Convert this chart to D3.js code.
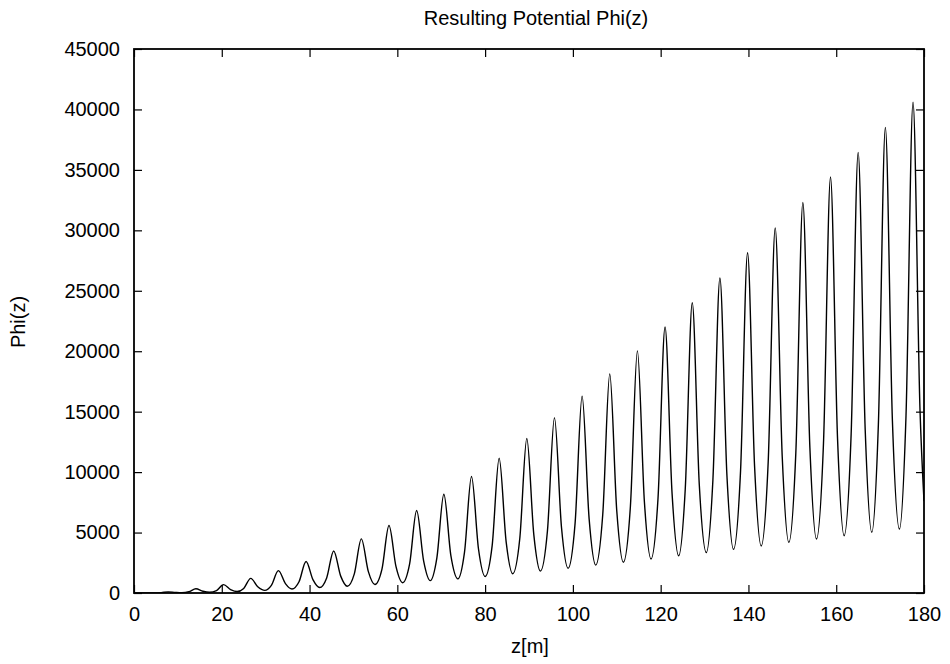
<!DOCTYPE html>
<html>
<head>
<meta charset="utf-8">
<script src="https://cdn.jsdelivr.net/npm/d3@7"></script>
<style>
  body { margin: 0; background: #fff; }
  text { font-family: "Liberation Sans", Arial, Helvetica, sans-serif; fill: #000; }
</style>
</head>
<body>
<div id="chart"></div>
<script>
// values
const peakZ   = [7.8, 14.1, 20.4, 26.6, 32.9, 39.2, 45.5, 51.8, 58.1, 64.4, 70.6, 76.9, 83.2, 89.5,
                 95.8, 102.1, 108.4, 114.7, 121.0, 127.2, 133.5, 139.8, 146.1, 152.4, 158.7, 165.0, 171.2, 177.5];
const peakPhi = [90, 350, 690, 1210, 1850, 2610, 3480, 4480, 5580, 6820, 8170, 9640, 11150, 12780,
                 14510, 16280, 18120, 20030, 22000, 24010, 26060, 28150, 30200, 32300, 34410, 36450, 38520, 40600];

const troughZ   = [4.6, 10.9, 17.2, 23.5, 29.8, 36.0, 42.3, 48.6, 54.9, 61.2, 67.5, 73.8, 80.0, 86.3,
                   92.6, 98.9, 105.2, 111.5, 117.8, 124.1, 130.4, 136.6, 142.9, 149.2, 155.5, 161.8, 168.1, 174.4];
const troughPhi = [10, 30, 60, 120, 220, 330, 450, 560, 700, 850, 1020, 1170, 1360, 1590,
                   1810, 2040, 2310, 2540, 2810, 3070, 3340, 3610, 3890, 4190, 4470, 4740, 5020, 5290];

// points on the rising flank, a quarter period before each peak
const riseZ   = [6.2, 12.5, 18.8, 25.0, 31.3, 37.6, 43.9, 50.2, 56.5, 62.8, 69.0, 75.3, 81.6, 87.9,
                 94.2, 100.5, 106.8, 113.1, 119.4, 125.6, 131.9, 138.2, 144.5, 150.8, 157.1, 163.4, 169.6, 175.9];
const risePhi = [30, 102, 203, 381, 638, 928, 1251, 1584, 1976, 2408, 2887, 3358, 3894, 4508,
                 5125, 5763, 6470, 7133, 7863, 8585, 9330, 10081, 10839, 11633, 12402, 13144, 13906, 14655];

// points on the falling flank, a quarter period after each peak
const fallZ   = [9.4, 15.7, 22.0, 28.2, 34.5, 40.8, 47.1, 53.4, 59.7, 66.0, 72.2, 78.5, 84.8, 91.1,
                 97.4, 103.7, 110.0, 116.3, 122.6, 128.8, 135.1, 141.4, 147.7, 154.0, 160.3, 166.6, 172.8, 179.1];
const fallPhi = [52, 145, 288, 516, 781, 1084, 1396, 1771, 2178, 2637, 3092, 3621, 4211, 4810,
                 5441, 6132, 6784, 7502, 8218, 8955, 9699, 10464, 11249, 12016, 12771, 13527, 14275, 15025];

const endZ   = [0, 180];
const endPhi = [0, 7600];

const xTicks = [0, 20, 40, 60, 80, 100, 120, 140, 160, 180];
const yTicks = [0, 5000, 10000, 15000, 20000, 25000, 30000, 35000, 40000, 45000];

const margin = {top: 49, right: 26, bottom: 71, left: 134},
    width = 950 - margin.left - margin.right,
    height = 664 - margin.top - margin.bottom;

let points = [];
[[peakZ, peakPhi], [troughZ, troughPhi], [riseZ, risePhi], [fallZ, fallPhi], [endZ, endPhi]]
  .forEach(([zs, vs]) => zs.forEach((z, i) => points.push({z: z, phi: vs[i]})));
points.sort((a, b) => d3.ascending(a.z, b.z));

const x = d3.scaleLinear().domain([0, 180]).range([0, width]);
const y = d3.scaleLinear().domain([0, 45000]).range([height, 0]);

const svg = d3.select('#chart').append('svg')
    .attr('width', 950)
    .attr('height', 664);

const g = svg.append('g')
    .attr('transform', `translate(${margin.left},${margin.top})`);

g.append('clipPath').attr('id', 'clip')
  .append('rect').attr('width', width).attr('height', height);

const tick = 8;
const fontSize = '20px';

// bottom and top axes, ticks pointing inward
g.append('g')
    .attr('transform', `translate(0,${height})`)
    .call(d3.axisBottom(x).tickValues(xTicks).tickSizeInner(-tick).tickSizeOuter(0).tickPadding(14))
    .call(a => a.select('.domain').remove());
g.append('g')
    .call(d3.axisTop(x).tickValues(xTicks).tickSizeInner(-tick).tickSizeOuter(0).tickFormat(''))
    .call(a => a.select('.domain').remove());

// left and right axes
g.append('g')
    .call(d3.axisLeft(y).tickValues(yTicks).tickSizeInner(-tick).tickSizeOuter(0).tickPadding(14).tickFormat(d3.format('d')))
    .call(a => a.select('.domain').remove());
g.append('g')
    .attr('transform', `translate(${width},0)`)
    .call(d3.axisRight(y).tickValues(yTicks).tickSizeInner(-tick).tickSizeOuter(0).tickFormat(''))
    .call(a => a.select('.domain').remove());

g.selectAll('.tick line').attr('stroke', '#000').attr('stroke-width', 1.2);
g.selectAll('.tick text')
    .style('font-size', fontSize)
    .style('font-family', '"Liberation Sans", Arial, sans-serif');

// frame
g.append('rect')
    .attr('width', width)
    .attr('height', height)
    .attr('fill', 'none')
    .attr('stroke', '#000')
    .attr('stroke-width', 1.8);

const line = d3.line()
    .x(d => x(d.z))
    .y(d => y(d.phi))
    .curve(d3.curveMonotoneX);

g.append('path')
    .datum(points)
    .attr('clip-path', 'url(#clip)')
    .attr('fill', 'none')
    .attr('stroke', '#000')
    .attr('stroke-width', 1.4)
    .attr('d', line);

svg.append('text')
    .attr('x', 536)
    .attr('y', 25)
    .style('text-anchor', 'middle')
    .style('font-size', fontSize)
    .text('Resulting Potential Phi(z)');

svg.append('text')
    .attr('x', 530)
    .attr('y', 653)
    .style('text-anchor', 'middle')
    .style('font-size', fontSize)
    .text('z[m]');

svg.append('text')
    .attr('transform', 'translate(25,322) rotate(-90)')
    .style('text-anchor', 'middle')
    .style('font-size', fontSize)
    .text('Phi(z)');
</script>
</body>
</html>
